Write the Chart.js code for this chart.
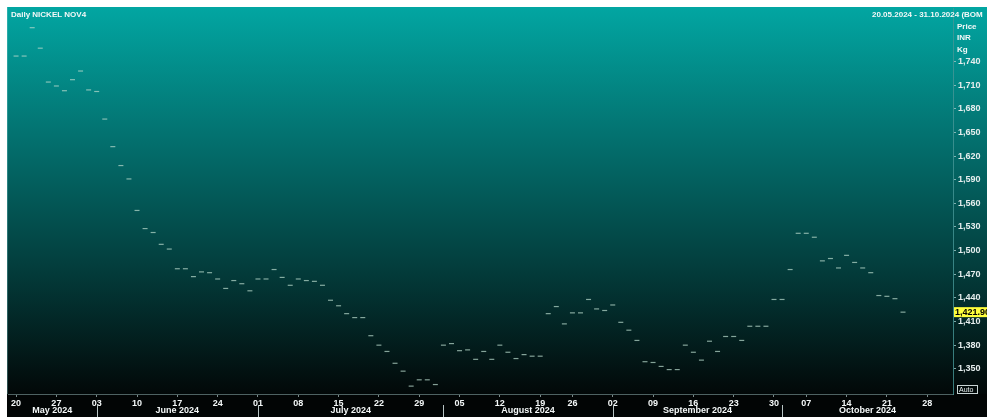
<!DOCTYPE html>
<html>
<head>
<meta charset="utf-8">
<script src="https://cdn.jsdelivr.net/npm/chart.js@4.4.1/dist/chart.umd.min.js"></script>
<style>
html, body { margin: 0; padding: 0; background: #fff; overflow: hidden; }
canvas { display: block; }
</style>
</head>
<body>
<canvas id="chart" width="987" height="417"></canvas>
<script>
// trading days per month (weekends and exchange holidays left out)
const monthNames = ["May 2024", "June 2024", "July 2024", "August 2024", "September 2024", "October 2024"];
const monthIndex = [4, 5, 6, 7, 8, 9];
const monthDays = [
    [20, 21, 22, 23, 24, 27, 28, 29, 30, 31],
    [3, 4, 5, 6, 7, 10, 11, 12, 13, 14, 17, 18, 19, 20, 21, 24, 25, 26, 27, 28],
    [1, 2, 3, 4, 5, 8, 9, 10, 11, 12, 15, 16, 17, 18, 19, 22, 23, 24, 25, 26, 29, 30, 31],
    [1, 2, 5, 6, 7, 8, 9, 12, 13, 14, 15, 16, 19, 20, 21, 22, 26, 27, 28, 29, 30],
    [2, 3, 4, 5, 6, 9, 10, 11, 12, 13, 16, 17, 18, 19, 20, 23, 24, 25, 26, 27, 30],
    [1, 3, 4, 7, 8, 9, 10, 11, 14, 15, 16, 17, 18, 21, 22, 23, 24, 25, 28, 29, 30, 31]
];

// daily closing price, INR / kg
const prices = [
    1747, 1747, 1783, 1757, 1714,
    1709, 1703, 1717, 1728, 1704,
    1702, 1667, 1632, 1608, 1591,
    1551, 1528, 1523, 1508, 1502,
    1477, 1477, 1467, 1473, 1472,
    1464, 1452, 1462, 1458, 1449,
    1464, 1464, 1476, 1466, 1456,
    1464, 1462, 1461, 1456, 1437,
    1430, 1420, 1415, 1415, 1392,
    1380, 1372, 1357, 1347, 1328,
    1336, 1336, 1330, 1380, 1382,
    1373, 1374, 1362, 1372, 1362,
    1380, 1371, 1363, 1368, 1366,
    1366, 1420, 1429, 1407,
    1421, 1421, 1438, 1426, 1424,
    1431, 1409, 1399, 1386, 1359,
    1358, 1353, 1349, 1349, 1380,
    1371, 1361, 1385, 1372, 1391,
    1391, 1386, 1404, 1404, 1404,
    1438, 1438, 1476, 1522,
    1522, 1517, 1487, 1490, 1478,
    1494, 1485, 1478, 1472, 1443,
    1442, 1439, 1421.9
];

const yTicks = [1350, 1380, 1410, 1440, 1470, 1500, 1530, 1560, 1590, 1620, 1650, 1680, 1710, 1740];
const lastPrice = "1,421.90";

const days = [];
const monthStart = [];
monthDays.forEach((list, m) => {
    monthStart.push(days.length);
    list.forEach(d => days.push({ m: monthIndex[m], d: d }));
});
const mondays = [];
days.forEach((day, i) => {
    if (new Date(2024, day.m, day.d).getDay() === 1) mondays.push(i);
});

const FONT = "'Liberation Sans', Arial, sans-serif";

const decor = {
    id: "decor",
    beforeDraw(chart) {
        const ctx = chart.ctx;
        const area = chart.chartArea;
        ctx.save();
        const g = ctx.createLinearGradient(0, 7, 0, area.bottom);
        g.addColorStop(0, "#02a6a2");
        g.addColorStop(0.33, "#037270");
        g.addColorStop(0.66, "#033f3e");
        g.addColorStop(1, "#020808");
        ctx.fillStyle = g;
        ctx.fillRect(7, 7, chart.width - 7, chart.height - 7);
        ctx.fillStyle = "#020505";
        ctx.fillRect(7, area.bottom, chart.width - 7, chart.height - area.bottom);
        ctx.fillStyle = "rgba(120,200,200,0.35)";
        ctx.fillRect(7, 7, 1, area.bottom - 7);
        ctx.restore();
    },
    afterDraw(chart) {
        const ctx = chart.ctx;
        const area = chart.chartArea;
        const x = chart.scales.x;
        const y = chart.scales.y;
        ctx.save();
        ctx.font = "bold 8px " + FONT;
        ctx.fillStyle = "#f4f8f8";
        ctx.textBaseline = "middle";
        ctx.textAlign = "left";
        ctx.fillText("Daily NICKEL NOV4", 11, 15);
        ctx.fillText("20.05.2024 - 31.10.2024 (BOM", 872, 15);
        ctx.fillText("Price", 957, 27);
        ctx.fillText("INR", 957, 38);
        ctx.fillText("Kg", 957, 50);

        // month row
        ctx.font = "bold 9px " + FONT;
        ctx.textAlign = "center";
        monthNames.forEach((name, m) => {
            const left = m === 0 ? area.left : x.getPixelForValue(monthStart[m]);
            const right = m + 1 < monthStart.length ? x.getPixelForValue(monthStart[m + 1]) : area.right;
            ctx.fillStyle = "#f4f8f8";
            ctx.fillText(name, (left + right) / 2, 411);
            if (m > 0) {
                ctx.fillStyle = "#b8c4c4";
                ctx.fillRect(Math.round(left), 405, 1, 12);
            }
        });

        // last price tag
        const py = y.getPixelForValue(prices[prices.length - 1]);
        ctx.fillStyle = "#ffff3c";
        ctx.fillRect(area.right + 1, py - 5, chart.width - area.right, 10);
        ctx.fillStyle = "#000";
        ctx.textAlign = "left";
        ctx.font = "bold 9px " + FONT;
        ctx.fillText(lastPrice, area.right + 2, py + 0.5);

        // auto box
        ctx.strokeStyle = "#c8d4d4";
        ctx.lineWidth = 1;
        ctx.strokeRect(957.5, 385.5, 20, 8);
        ctx.fillStyle = "#e8f0f0";
        ctx.font = "7px " + FONT;
        ctx.fillText("Auto", 959, 390);
        ctx.restore();
    }
};

new Chart(document.getElementById("chart"), {
    type: "scatter",
    data: {
        datasets: [{
            label: "Close",
            data: prices.map((v, i) => ({ x: i, y: v })),
            showLine: false,
            pointStyle: "line",
            pointRadius: 2.5,
            pointHoverRadius: 2.5,
            borderWidth: 1.2,
            borderColor: "rgba(185,218,204,0.72)"
        }]
    },
    options: {
        responsive: false,
        animation: false,
        devicePixelRatio: 1,
        layout: { padding: { left: 8, top: 8, right: 0, bottom: 0 } },
        plugins: {
            legend: { display: false },
            tooltip: { enabled: false }
        },
        scales: {
            x: {
                type: "linear",
                min: -1,
                max: 116.2,
                afterBuildTicks: scale => { scale.ticks = mondays.map(v => ({ value: v })); },
                afterFit: scale => { scale.height = 23; },
                ticks: {
                    autoSkip: false,
                    maxRotation: 0,
                    padding: 1,
                    color: "#f4f8f8",
                    font: { family: FONT, size: 9, weight: "bold" },
                    callback: v => String(days[v].d).padStart(2, "0")
                },
                grid: { drawOnChartArea: false, drawTicks: true, tickLength: 3, color: "#7a8a8a" },
                border: { color: "#4e6262" }
            },
            y: {
                position: "right",
                min: 1318,
                max: 1808,
                afterBuildTicks: scale => { scale.ticks = yTicks.map(v => ({ value: v })); },
                afterFit: scale => { scale.width = 34; },
                ticks: {
                    padding: 2,
                    color: "#e6eeee",
                    font: { family: FONT, size: 9, weight: "bold" },
                    callback: v => v.toLocaleString("en-US")
                },
                grid: { drawOnChartArea: false, drawTicks: true, tickLength: 3, color: "rgba(160,200,200,0.8)" },
                border: { color: "rgba(70,150,150,0.8)" }
            }
        }
    },
    plugins: [decor]
});
</script>
</body>
</html>
